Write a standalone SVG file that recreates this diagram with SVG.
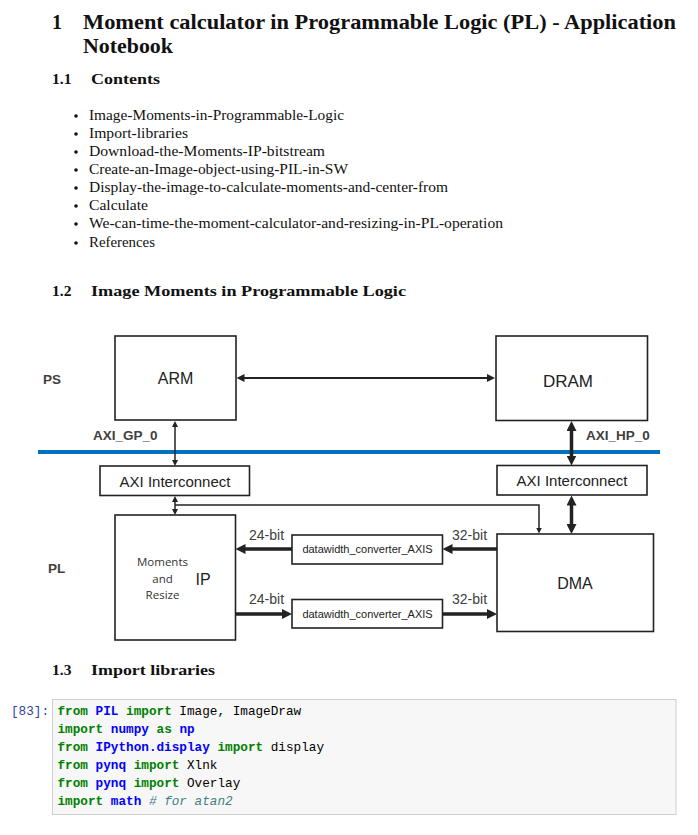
<svg xmlns="http://www.w3.org/2000/svg" width="698" height="835" viewBox="0 0 698 835">
<style>
  .h1 { font-family: "Liberation Serif", "DejaVu Serif", serif; font-weight: bold; font-size: 20px; fill: #111; }
  .h2 { font-family: "Liberation Serif", "DejaVu Serif", serif; font-weight: bold; font-size: 15.5px; fill: #111; }
  .li { font-family: "Liberation Serif", "DejaVu Serif", serif; font-size: 14.5px; fill: #111; }
  .box { fill: #fff; stroke: #222; stroke-width: 1.6; }
  .lbl { font-family: "Liberation Sans", Arial, sans-serif; fill: #222; text-anchor: middle; }
  .side { font-family: "Liberation Sans", Arial, sans-serif; font-weight: bold; font-size: 13.5px; fill: #404040; }
  .bits { font-family: "Liberation Sans", Arial, sans-serif; font-size: 14px; fill: #404040; }
  .ipt { font-family: "Open Sans", "Liberation Sans", sans-serif; font-size: 11.5px; fill: #333; text-anchor: middle; }
  .thin { stroke: #222; stroke-width: 2; fill: none; }
  .small { stroke: #222; stroke-width: 1.5; fill: none; }
  .thick { stroke: #222; stroke-width: 3.5; fill: none; }
  .code { font-family: "Liberation Mono", "DejaVu Sans Mono", monospace; font-size: 12.7px; fill: #000; white-space: pre; }
  .kw { fill: #008000; font-weight: bold; }
  .nn { fill: #0000ff; font-weight: bold; }
  .cm { fill: #408080; font-style: italic; }
</style>
<defs>
  <marker id="m-thin" markerUnits="userSpaceOnUse" markerWidth="8" markerHeight="8" refX="1" refY="4" orient="auto-start-reverse">
    <path d="M0,0 L8,4 L0,8 z" fill="#222"/>
  </marker>
  <marker id="m-small" markerUnits="userSpaceOnUse" markerWidth="6" markerHeight="6" refX="1" refY="3" orient="auto-start-reverse">
    <path d="M0,0 L6,3 L0,6 z" fill="#222"/>
  </marker>
  <marker id="m-thick" markerUnits="userSpaceOnUse" markerWidth="10" markerHeight="10" refX="1" refY="5" orient="auto-start-reverse">
    <path d="M0,0 L10,5 L0,10 z" fill="#222"/>
  </marker>
</defs>
<rect width="698" height="835" fill="#fff"/>

<!-- Headings -->
<text class="h1" x="52" y="29">1</text>
<text class="h1" x="83" y="29" textLength="593" lengthAdjust="spacingAndGlyphs">Moment calculator in Programmable Logic (PL) - Application</text>
<text class="h1" x="83" y="53" textLength="90" lengthAdjust="spacingAndGlyphs">Notebook</text>

<text class="h2" x="52" y="84">1.1</text>
<text class="h2" x="91" y="84" textLength="69" lengthAdjust="spacingAndGlyphs">Contents</text>

<g id="contents">
  <g fill="#111">
    <circle cx="76" cy="116" r="1.8"/>
    <circle cx="76" cy="134" r="1.8"/>
    <circle cx="76" cy="152" r="1.8"/>
    <circle cx="76" cy="170" r="1.8"/>
    <circle cx="76" cy="188" r="1.8"/>
    <circle cx="76" cy="206" r="1.8"/>
    <circle cx="76" cy="224" r="1.8"/>
    <circle cx="76" cy="243" r="1.8"/>
  </g>
  <text class="li" x="89" y="120" textLength="255" lengthAdjust="spacingAndGlyphs">Image-Moments-in-Programmable-Logic</text>
  <text class="li" x="89" y="138" textLength="99" lengthAdjust="spacingAndGlyphs">Import-libraries</text>
  <text class="li" x="89" y="156" textLength="236" lengthAdjust="spacingAndGlyphs">Download-the-Moments-IP-bitstream</text>
  <text class="li" x="89" y="174" textLength="259" lengthAdjust="spacingAndGlyphs">Create-an-Image-object-using-PIL-in-SW</text>
  <text class="li" x="89" y="192" textLength="359" lengthAdjust="spacingAndGlyphs">Display-the-image-to-calculate-moments-and-center-from</text>
  <text class="li" x="89" y="210" textLength="59" lengthAdjust="spacingAndGlyphs">Calculate</text>
  <text class="li" x="89" y="228" textLength="414" lengthAdjust="spacingAndGlyphs">We-can-time-the-moment-calculator-and-resizing-in-PL-operation</text>
  <text class="li" x="89" y="247" textLength="66" lengthAdjust="spacingAndGlyphs">References</text>
</g>

<text class="h2" x="52" y="296">1.2</text>
<text class="h2" x="91" y="296" textLength="315" lengthAdjust="spacingAndGlyphs">Image Moments in Programmable Logic</text>

<!-- Diagram -->
<line x1="38" y1="452" x2="660" y2="452" stroke="#0070C0" stroke-width="4"/>

<g id="side-labels">
  <text class="side" x="43" y="384">PS</text>
  <text class="side" x="48" y="573">PL</text>
  <text class="side" x="93" y="440" font-size="13px">AXI_GP_0</text>
  <text class="side" x="586" y="440" font-size="13px">AXI_HP_0</text>
</g>

<g id="arm">
  <rect class="box" x="115" y="336" width="121" height="84"/>
  <text class="lbl" x="175.5" y="384" font-size="16px">ARM</text>
</g>
<g id="dram">
  <rect class="box" x="496" y="336" width="151.5" height="84.5"/>
  <text class="lbl" x="568" y="387" font-size="17px">DRAM</text>
</g>
<g id="axi-left">
  <rect class="box" x="100" y="466" width="149.5" height="29.5"/>
  <text class="lbl" x="175" y="486.5" font-size="15px">AXI Interconnect</text>
</g>
<g id="axi-right">
  <rect class="box" x="497" y="465.5" width="150" height="29.5"/>
  <text class="lbl" x="572" y="486" font-size="15px">AXI Interconnect</text>
</g>
<g id="ip">
  <rect class="box" x="115" y="515" width="120.5" height="125"/>
  <text class="ipt" x="162.5" y="566">Moments</text>
  <text class="ipt" x="162.5" y="582.5">and</text>
  <text class="ipt" x="162.5" y="598.5">Resize</text>
  <text class="lbl" x="203" y="584.5" font-size="16px">IP</text>
</g>
<g id="dma">
  <rect class="box" x="497" y="534" width="156.5" height="97.5"/>
  <text class="lbl" x="575" y="589" font-size="16px">DMA</text>
</g>
<g id="conv-top">
  <rect class="box" x="292" y="535" width="150.5" height="29"/>
  <text class="lbl" x="367.5" y="553" font-size="11px">datawidth_converter_AXIS</text>
</g>
<g id="conv-bottom">
  <rect class="box" x="292" y="599.5" width="150.5" height="28.5"/>
  <text class="lbl" x="367.5" y="617.5" font-size="11px">datawidth_converter_AXIS</text>
</g>

<g id="connectors">
  <line class="thin" x1="243.5" y1="378" x2="488" y2="378" marker-start="url(#m-thin)" marker-end="url(#m-thin)"/>
  <line class="small" x1="175" y1="426" x2="175" y2="461" marker-start="url(#m-small)" marker-end="url(#m-small)"/>
  <line class="thick" x1="571.5" y1="430" x2="571.5" y2="456.5" marker-start="url(#m-thick)" marker-end="url(#m-thick)"/>
  <line class="small" x1="175" y1="501" x2="175" y2="510" marker-start="url(#m-small)" marker-end="url(#m-small)"/>
  <path class="small" d="M175,505 H539 V528.5" marker-end="url(#m-small)"/>
  <line class="thick" x1="571.5" y1="504.5" x2="571.5" y2="525" marker-start="url(#m-thick)" marker-end="url(#m-thick)"/>
  <line class="thick" x1="497" y1="549" x2="451.5" y2="549" marker-end="url(#m-thick)"/>
  <line class="thick" x1="292" y1="549" x2="244.5" y2="549" marker-end="url(#m-thick)"/>
  <line class="thick" x1="235.5" y1="614" x2="283" y2="614" marker-end="url(#m-thick)"/>
  <line class="thick" x1="442.5" y1="614" x2="488" y2="614" marker-end="url(#m-thick)"/>
  <text class="bits" x="249" y="540">24-bit</text>
  <text class="bits" x="452" y="540">32-bit</text>
  <text class="bits" x="249" y="604">24-bit</text>
  <text class="bits" x="452" y="604">32-bit</text>
</g>

<text class="h2" x="52" y="675">1.3</text>
<text class="h2" x="91" y="675" textLength="124" lengthAdjust="spacingAndGlyphs">Import libraries</text>

<!-- Code cell -->
<text class="code" x="11" y="715" fill="#303F9F" style="fill:#303F9F">[83]:</text>
<rect x="52.5" y="699.5" width="623.5" height="115" fill="#f7f7f7" stroke="#cfcfcf" stroke-width="1"/>
<text class="code" x="57.5" y="715"><tspan class="kw">from</tspan> <tspan class="nn">PIL</tspan> <tspan class="kw">import</tspan> Image, ImageDraw</text>
<text class="code" x="57.5" y="733"><tspan class="kw">import</tspan> <tspan class="nn">numpy</tspan> <tspan class="kw">as</tspan> <tspan class="nn">np</tspan></text>
<text class="code" x="57.5" y="751"><tspan class="kw">from</tspan> <tspan class="nn">IPython.display</tspan> <tspan class="kw">import</tspan> display</text>
<text class="code" x="57.5" y="769"><tspan class="kw">from</tspan> <tspan class="nn">pynq</tspan> <tspan class="kw">import</tspan> Xlnk</text>
<text class="code" x="57.5" y="787"><tspan class="kw">from</tspan> <tspan class="nn">pynq</tspan> <tspan class="kw">import</tspan> Overlay</text>
<text class="code" x="57.5" y="805"><tspan class="kw">import</tspan> <tspan class="nn">math</tspan> <tspan class="cm"># for atan2</tspan></text>
</svg>
